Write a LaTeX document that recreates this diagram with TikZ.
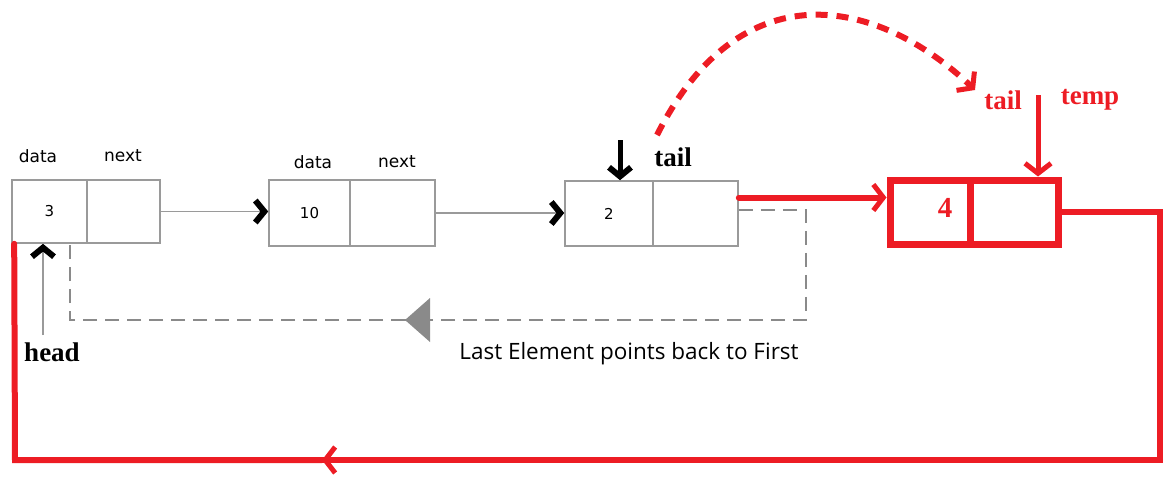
\documentclass[tikz,border=0pt]{standalone}
\usepackage{fontspec}
\setmainfont{Liberation Serif}
\newfontfamily\uifont{Open Sans}
\newfontfamily\cellfont{DejaVu Sans}
\usetikzlibrary{arrows.meta}
\definecolor{pred}{HTML}{ED1C24}
\definecolor{boxgray}{HTML}{9A9A9A}
\definecolor{dgray}{HTML}{8A8A8A}
\tikzset{
  cell/.style={draw=boxgray, line width=1.6pt, minimum width=#1, inner sep=0pt, font=\cellfont\fontsize{15}{15}\selectfont},
  redcell/.style={draw=pred, line width=7pt, minimum width=#1, minimum height=64pt, inner sep=0pt},
  lbl/.style={font=\cellfont\fontsize{17}{17}\selectfont, inner sep=0pt},
  bold lbl/.style={font=\bfseries\fontsize{27}{27}\selectfont, inner sep=0pt},
  glink/.style={draw=boxgray, line width=1.6pt, -{Straight Barb[color=black, length=9pt, width=22pt, line width=6pt]}},
  redline/.style={draw=pred, line width=6pt, line cap=round},
  redtip/.style={-{Straight Barb[color=pred, length=10pt, width=26pt, line width=5pt]}},
  backlink/.style={draw=dgray, line width=1.6pt, dash pattern=on 14pt off 8pt},
}
\begin{document}
\begin{tikzpicture}[x=1pt, y=-1pt]
\useasboundingbox (0,0) rectangle (1169,479);
% node 1
\node[cell=75pt, minimum height=63pt] (n1d) at (49.5,211.5) {3};
\node[cell=73pt, minimum height=63pt] (n1n) at (123.5,211.5) {};
\node[lbl] (n1dl) at (38,156) {data};
\node[lbl] (n1nl) at (123,156) {next};
% node 2
\node[cell=81pt, minimum height=66pt] (n2d) at (309.5,213) {10};
\node[cell=85pt, minimum height=66pt] (n2n) at (392.5,213) {};
\node[lbl] (n2dl) at (313,162) {data};
\node[lbl] (n2nl) at (397,162) {next};
% node 3
\node[cell=88pt, minimum height=65pt] (n3d) at (609,213.5) {2};
\node[cell=85pt, minimum height=65pt] (n3n) at (695.5,213.5) {};
% node 4 (new)
\node[redcell=80pt] (n4d) at (930,212) {};
\node[redcell=88pt] (n4n) at (1014,212) {};
\node[text=pred, font=\bfseries\fontsize{29}{29}\selectfont, inner sep=0pt] (four) at (945,208) {4};
% links
\draw[glink] (n1n.east) -- (n1n.east -| n2d.west);
\draw[glink] (n2n.east) -- (n2n.east -| n3d.west);
\draw[redline, redtip] ([yshift=16pt]n3n.east) -- ([yshift=16pt]n3n.east -| n4d.west);
% back link (dashed)
\coordinate (b1) at (806,210);
\coordinate (b2) at (806,320);
\coordinate (b3) at (405,320);
\coordinate (b4) at (70,320);
\draw[backlink] ([yshift=3.5pt]n3n.east) -- (b1) -- (b2) -- (b3);
\draw[backlink] (b3) -- (b4) -- (b4 |- n1d.south);
\fill[dgray] (b3) -- ++(25,-22) -- ++(0,44) -- cycle;
\node[font=\uifont\fontsize{22.5}{22.5}\selectfont, inner sep=0pt] (caption) at (629,354) {Last Element points back to First};
% red loop
\coordinate (r1) at (1160,212);
\coordinate (r2) at (1160,460);
\coordinate (rm) at (322,460);
\coordinate (r3) at (15,460);
\draw[redline] (n4n.east) -- (r1) -- (r2) -- (rm);
\draw[redline, redtip] (r2) -- (rm);
\draw[redline] (rm) -- (r3) -- ([xshift=3pt]n1d.south west);
% head
\node[bold lbl] (head) at (52,352) {head};
\coordinate (h0) at (43,335);
\draw[glink] (h0) -- (h0 |- n1d.south);
% tail (old)
\node[bold lbl] (tailB) at (673,157) {tail};
\coordinate (t0) at (620,140);
\draw[line width=5pt, -{Straight Barb[length=9pt, width=22pt, line width=6pt]}] (t0) -- (t0 |- n3d.north);
% tail moves (red dashed curve)
\coordinate (c0) at (657,135);
\coordinate (c1) at (975,90);
\draw[draw=pred, line width=6pt, dash pattern=on 12pt off 9pt, redtip] (c0) .. controls (740,-30) and (876,-4) .. (c1);
\node[bold lbl, text=pred] (tailR) at (1003,100) {tail};
\node[bold lbl, text=pred] (temp) at (1090,100) {temp};
\coordinate (m0) at (1038,95);
\draw[draw=pred, line width=5pt, redtip] (m0) -- (m0 |- n4n.north);
\end{tikzpicture}
\end{document}
